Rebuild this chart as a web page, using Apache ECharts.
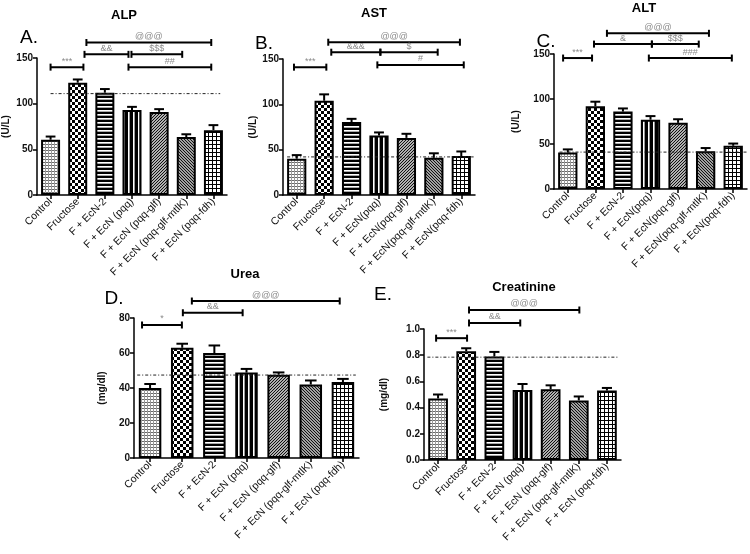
<!DOCTYPE html>
<html><head><meta charset="utf-8">
<script src="https://cdn.jsdelivr.net/npm/echarts@6/dist/echarts.min.js"></script>
<style>html,body{margin:0;padding:0;background:#fff}#c{width:750px;height:554px}</style>
</head><body><div id="c"></div>
<script>
// ---------- DATA ----------
const catsAD = ['Control','Fructose','F + EcN-2','F + EcN (pqq)','F + EcN (pqq-glf)','F + EcN (pqq-glf-mtlK)','F + EcN (pqq-fdh)'];
const catsBC = ['Control','Fructose','F + EcN-2','F + EcN(pqq)','F + EcN(pqq-glf)','F + EcN(pqq-glf-mtlK)','F + EcN(pqq-fdh)'];

const alpMean = [60.5, 123, 112, 93, 91, 63.5, 71];
const alpErr  = [3.5, 3.5, 4, 3.5, 3, 3, 5.5];
const alpRef  = 111;
const alpRefSpan = [0, 6.25];
const alpBrackets = [[0,1.21,140,'***'],[1.32,5.92,167,'@@@'],[1.25,2.87,154,'&&'],[2.98,4.85,154,'$$$'],[2.87,5.92,140,'##']];

const astMean = [40, 104, 80.5, 65.5, 63, 41, 43];
const astErr  = [4, 7, 3.5, 3.5, 4.5, 5, 5];
const astRef  = 42;
const astRefSpan = [-0.35, 6.45];
const astBrackets = [[-0.1,1.08,141,'***'],[1.15,5.95,168.5,'@@@'],[1.26,3.05,157.5,'&&&'],[3.05,5.14,157.5,'$'],[2.94,6.09,143.5,'#']];

const altMean = [40.5, 92, 86, 77, 73.5, 42, 48];
const altErr  = [3.5, 5, 3.5, 4, 4, 3.5, 2.5];
const altRef  = 41;
const altRefSpan = [-0.3, 6.5];
const altBrackets = [[-0.17,0.88,145.5,'***'],[1.42,5.12,173,'@@@'],[0.95,3.05,161,'&'],[3.05,4.75,161,'$$$'],[2.94,5.95,145.5,'###']];

const ureaMean = [40, 63, 60, 48.8, 47.6, 42, 43.4];
const ureaErr  = [2.3, 2.3, 4.3, 2.1, 1.3, 2.3, 1.8];
const ureaRef  = 47.4;
const ureaRefSpan = [-0.4, 6.4];
const ureaBrackets = [[-0.25,0.99,76,'*'],[1.02,2.88,83,'&&'],[1.3,5.9,89.7,'@@@']];

const creaMean = [0.47, 0.83, 0.79, 0.535, 0.54, 0.455, 0.53];
const creaErr  = [0.03, 0.023, 0.035, 0.045, 0.03, 0.03, 0.02];
const creaRef  = 0.785;
const creaRefSpan = [-0.38, 6.4];
const creaBrackets = [[-0.07,1.03,0.93,'***'],[1.1,2.92,1.046,'&&'],[1.1,5.02,1.145,'@@@']];

const titles  = ['ALP','AST','ALT','Urea','Creatinine'];
const letters = ['A.','B.','C.','D.','E.'];
const yNames  = ['(U/L)','(U/L)','(U/L)','(mg/dl)','(mg/dl)'];
const yMax    = [150,150,150,80,1.0];
const yStep   = [50,50,50,20,0.2];

// ---------- LAYOUT / STYLE ----------
const panels = [
  {cats:catsAD, mean:alpMean, err:alpErr, ref:alpRef, span:alpRefSpan, br:alpBrackets},
  {cats:catsBC, mean:astMean, err:astErr, ref:astRef, span:astRefSpan, br:astBrackets},
  {cats:catsBC, mean:altMean, err:altErr, ref:altRef, span:altRefSpan, br:altBrackets},
  {cats:catsAD, mean:ureaMean, err:ureaErr, ref:ureaRef, span:ureaRefSpan, br:ureaBrackets},
  {cats:catsAD, mean:creaMean, err:creaErr, ref:creaRef, span:creaRefSpan, br:creaBrackets}
];
const grids = [
  {left:36, top:58, width:191, height:137},
  {left:283, top:59, width:192, height:136},
  {left:554, top:54, width:193, height:135},
  {left:134, top:318, width:225, height:140},
  {left:424, top:329, width:197, height:131}
];
const nameGaps = [26, 25, 33, 27, 35];
const titlePos = [[124,15],[374,13],[644,8],[245,274],[524,287]];
const letterPos = [[29,38],[264,44],[546,42],[114,299],[383,295]];

function tile(w,h,bg,draw){
  const c=document.createElement('canvas');c.width=w;c.height=h;
  const g=c.getContext('2d');g.fillStyle=bg;g.fillRect(0,0,w,h);g.fillStyle='#000';
  draw(g);return {image:c,repeat:'repeat'};
}
const patterns = [
  tile(3,3,'#fff',g=>{g.fillStyle='#6a6a6a';g.fillRect(0,0,3,1);g.fillStyle='#9a9a9a';g.fillRect(0,0,1,3);}),
  tile(6,6,'#fff',g=>{g.fillRect(0,0,3,3);g.fillRect(3,3,3,3);}),
  tile(4,4,'#fff',g=>{g.fillRect(0,0,4,2);g.fillStyle='#aaa';g.fillRect(0,3,4,1);}),
  tile(5,4,'#fff',g=>{g.fillRect(0,0,3,4);g.fillStyle='#999';g.fillRect(4,0,1,4);}),
  tile(3,3,'#b0b0b0',g=>{g.fillStyle='#111';for(let i=0;i<3;i++){g.fillRect(i,2-i,1,1);}}),
  tile(3,3,'#a0a0a0',g=>{g.fillStyle='#111';for(let i=0;i<3;i++){g.fillRect(i,i,1,1);}}),
  tile(4,4,'#fff',g=>{g.fillRect(0,0,4,1);g.fillRect(0,0,1,4);})
];

const chart = echarts.init(document.getElementById('c'));
const option = {animation:false, backgroundColor:'#fff', grid:[], xAxis:[], yAxis:[], series:[], graphic:[]};

panels.forEach((p,i)=>{
  option.grid.push(Object.assign({containLabel:false}, grids[i]));
  option.xAxis.push({type:'category', gridIndex:i, data:p.cats, boundaryGap:true,
    axisLine:{show:true, onZero:false, lineStyle:{color:'#000', width:1.5}},
    axisTick:{show:true, alignWithLabel:true, length:4, lineStyle:{color:'#000', width:1.5}},
    axisLabel:{interval:0, rotate:45, fontSize:10.5, color:'#111', margin:5, fontFamily:'Arial'},
    splitLine:{show:false}});
  option.xAxis.push({type:'value', gridIndex:i, min:-0.5, max:6.5, show:false});
  option.yAxis.push({type:'value', gridIndex:i, min:0, max:yMax[i], interval:yStep[i],
    name:yNames[i], nameLocation:'middle', nameGap:nameGaps[i], nameRotate:90,
    nameTextStyle:{fontSize:10, fontWeight:'bold', color:'#111', fontFamily:'Arial'},
    axisLine:{show:true, onZero:false, lineStyle:{color:'#000', width:1.5}},
    axisTick:{show:true, length:4, lineStyle:{color:'#000', width:1.5}},
    axisLabel:{fontSize:10, fontWeight:'bold', color:'#111', margin:4, fontFamily:'Arial',
      formatter: i===4 ? (v=>v.toFixed(1)) : (v=>String(v))},
    splitLine:{show:false}});
  // bars
  option.series.push({type:'bar', xAxisIndex:2*i, yAxisIndex:i, barWidth:'70%',
    data:p.mean.map((v,k)=>({value:v, itemStyle:{color:patterns[k], borderColor:'#000', borderWidth:2}})),
    z:2});
  // error bars
  option.series.push({type:'custom', xAxisIndex:2*i, yAxisIndex:i, z:5, clip:false,
    data:p.mean.map((v,k)=>[k, v, p.err[k]]),
    renderItem:(params, api)=>{
      const x=api.value(0), m=api.value(1), e=api.value(2);
      const a=api.coord([x,m]), b=api.coord([x,m+e]);
      const cw=api.size([1,0])[0]*0.36;
      return {type:'group', children:[
        {type:'line', shape:{x1:a[0],y1:a[1],x2:b[0],y2:b[1]}, style:{stroke:'#000', lineWidth:2}},
        {type:'line', shape:{x1:b[0]-cw/2,y1:b[1],x2:b[0]+cw/2,y2:b[1]}, style:{stroke:'#000', lineWidth:2}}
      ]};
    }});
  // reference line
  option.series.push({type:'custom', xAxisIndex:2*i+1, yAxisIndex:i, z:4, clip:false,
    data:[[p.span[0], p.ref, p.span[1]]],
    renderItem:(params, api)=>{
      const a=api.coord([api.value(0), api.value(1)]), b=api.coord([api.value(2), api.value(1)]);
      return {type:'line', shape:{x1:a[0],y1:a[1],x2:b[0],y2:b[1]},
        style:{stroke:'#222', lineWidth:1, lineDash:[3,2,1,2]}};
    }});
  // significance brackets
  option.series.push({type:'custom', xAxisIndex:2*i+1, yAxisIndex:i, z:6, clip:false,
    data:p.br.map(b=>[b[0], b[2], b[1]]),
    renderItem:(params, api)=>{
      const b=p.br[params.dataIndex];
      const a=api.coord([b[0], b[2]]), c=api.coord([b[1], b[2]]);
      const h=3.5;
      return {type:'group', children:[
        {type:'line', shape:{x1:a[0],y1:a[1],x2:c[0],y2:c[1]}, style:{stroke:'#000', lineWidth:2}},
        {type:'line', shape:{x1:a[0],y1:a[1]-h,x2:a[0],y2:a[1]+h}, style:{stroke:'#000', lineWidth:2}},
        {type:'line', shape:{x1:c[0],y1:c[1]-h,x2:c[0],y2:c[1]+h}, style:{stroke:'#000', lineWidth:2}},
        {type:'text', x:(a[0]+c[0])/2, y:a[1]-1.5,
          style:{text:b[3], fill:'#8a8a8a', font:'9px Arial', align:'center', verticalAlign:'bottom'}}
      ]};
    }});
  option.graphic.push({type:'text', x:titlePos[i][0], y:titlePos[i][1],
    style:{text:titles[i], font:'bold 13px Arial', fill:'#000', align:'center', verticalAlign:'middle'}});
  option.graphic.push({type:'text', x:letterPos[i][0], y:letterPos[i][1],
    style:{text:letters[i], font:'19px Arial', fill:'#000', align:'center', verticalAlign:'middle'}});
});
chart.setOption(option);
</script>
</body></html>
